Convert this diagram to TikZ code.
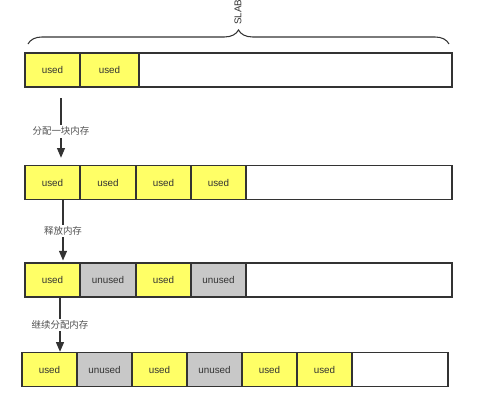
\documentclass[tikz,border=0pt]{standalone}
\usepackage{fontspec}
\setmainfont{Liberation Sans}
\newfontfamily\cjk{Noto Sans CJK SC}
\usetikzlibrary{arrows.meta, decorations.pathreplacing}
\definecolor{ink}{HTML}{333333}
\definecolor{usedfill}{HTML}{FFFF66}
\definecolor{freefill}{HTML}{C8C8C8}

\begin{document}
\begin{tikzpicture}[x=0.02cm, y=-0.02cm, font=\fontsize{5.6}{6.5}\selectfont,
  usedcell/.style={draw=ink, line width=0.8pt, fill=usedfill, minimum width=1.1cm, minimum height=0.68cm, text=ink},
  freecell/.style={draw=ink, line width=0.8pt, fill=freefill, minimum width=1.1cm, minimum height=0.68cm, text=ink},
  restcell/.style={draw=ink, line width=0.8pt, fill=white, minimum height=0.68cm},
  arr/.style={-{Triangle[length=5.5pt, width=4.5pt]}, line width=0.7pt, ink},
  lbl/.style={fill=white, inner sep=1pt, font=\cjk\fontsize{5.4}{6}\selectfont, text=ink!85}
]
  \useasboundingbox (0,0) rectangle (500,403);

  % slab 1
  \node[usedcell] (r1c1) at (52.5,70) {used};
  \node[usedcell, minimum width=1.18cm] (r1c2) at (109.5,70) {used};
  \node[restcell, minimum width=6.26cm] (r1r) at (295.5,70) {};

  \coordinate (bl) at (28,44);
  \coordinate (br) at (449,44);
  \draw[ink, line width=0.6pt, decorate, decoration={brace, amplitude=8pt}] (bl) -- (br);
  \node[rotate=90, anchor=west, inner sep=0pt, text=ink] (slab) at (238,25) {SLAB};

  % slab 2
  \node[usedcell] (r2c1) at (52.5,182.5) {used};
  \node[usedcell] (r2c2) at (108,182.5) {used};
  \node[usedcell] (r2c3) at (163.5,182.5) {used};
  \node[usedcell] (r2c4) at (218.5,182.5) {used};
  \node[restcell, minimum width=4.12cm] (r2r) at (349,182.5) {};

  % slab 3
  \node[usedcell] (r3c1) at (52.5,280) {used};
  \node[freecell] (r3c2) at (108,280) {unused};
  \node[usedcell] (r3c3) at (163.5,280) {used};
  \node[freecell] (r3c4) at (218.5,280) {unused};
  \node[restcell, minimum width=4.12cm] (r3r) at (349,280) {};

  % slab 4
  \node[usedcell] (r4c1) at (49.5,369.5) {used};
  \node[freecell] (r4c2) at (104.5,369.5) {unused};
  \node[usedcell] (r4c3) at (159.5,369.5) {used};
  \node[freecell] (r4c4) at (214.5,369.5) {unused};
  \node[usedcell] (r4c5) at (269.5,369.5) {used};
  \node[usedcell] (r4c6) at (324.5,369.5) {used};
  \node[restcell, minimum width=1.92cm] (r4r) at (400,369.5) {};

  % steps
  \coordinate (a1) at (61,98);
  \coordinate (a2) at (63,0);
  \coordinate (a3) at (60,0);
  \draw[arr, shorten >=4pt] (a1) -- (a1 |- r2c1.north) node[midway, lbl] {分配一块内存};
  \draw[arr, shorten >=1pt] (a2 |- r2c1.south) -- (a2 |- r3c1.north) node[midway, lbl] {释放内存};
  \draw[arr] (a3 |- r3c1.south) -- (a3 |- r4c1.north) node[midway, lbl] {继续分配内存};
\end{tikzpicture}
\end{document}
